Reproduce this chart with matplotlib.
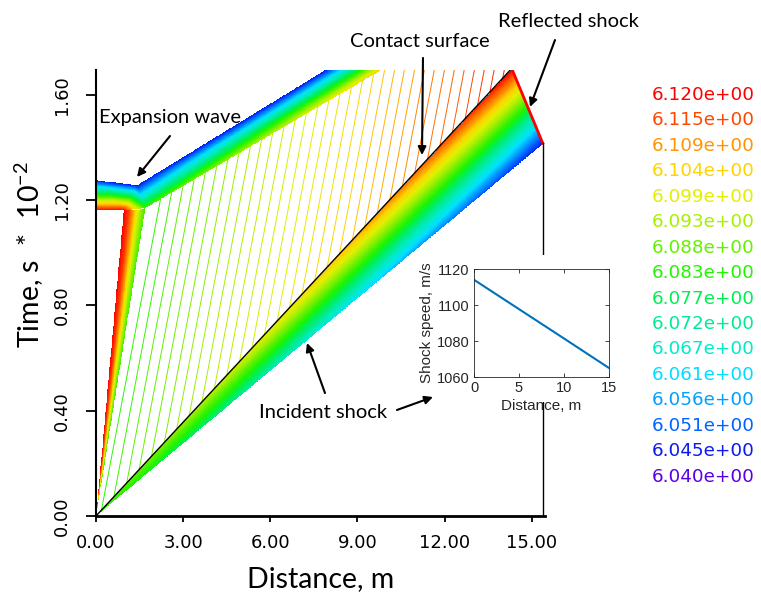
import numpy as np
import matplotlib
matplotlib.use('Agg')
import matplotlib.pyplot as plt
from matplotlib.colors import LinearSegmentedColormap, Normalize
from matplotlib.collections import LineCollection
from matplotlib.patches import Rectangle

# ---------------- data (x in m, t in s*1e-2) ----------------
legend_levels = [6.120, 6.115, 6.109, 6.104, 6.099, 6.093, 6.088, 6.083,
                 6.077, 6.072, 6.067, 6.061, 6.056, 6.051, 6.045, 6.040]
# colour of each level, ascending order 6.040 -> 6.120
level_rgb = [(90, 0, 230), (0, 30, 245), (0, 95, 255), (0, 160, 255),
             (0, 225, 255), (0, 235, 205), (0, 235, 150), (0, 240, 80),
             (30, 245, 0), (100, 240, 0), (170, 240, 0), (225, 240, 0),
             (255, 210, 0), (255, 145, 0), (255, 80, 0), (255, 0, 0)]

x_ticks = [0, 3, 6, 9, 12, 15]
t_ticks = [0.0, 0.4, 0.8, 1.2, 1.6]

contact_end = (14.31, 1.70)     # contact surface reaches top
shock_end = (15.38, 1.416)      # incident shock at end wall
band_values = (6.085, 6.120, 6.045)   # at origin, contact_end, shock_end
wall_x = 15.38

# expansion fan (rays from origin), top points and values
fan_top_x = [0.95, 1.12, 1.28, 1.42, 1.56, 1.69]
fan_top_t = [1.162, 1.162, 1.162, 1.164, 1.166, 1.170]
fan_values = [6.120, 6.116, 6.108, 6.099, 6.091, 6.085]

# reflected expansion band (horizontal part + diagonal tail)
exp_x = [0.0, 0.95, 0.0, 1.41, 1.69, 7.95, 9.88]
exp_t = [1.162, 1.162, 1.276, 1.257, 1.170, 1.70, 1.70]
exp_v = [6.120, 6.120, 6.045, 6.045, 6.085, 6.045, 6.104]
exp_tris = [(0, 1, 2), (1, 3, 2), (1, 4, 3), (3, 4, 6), (3, 6, 5)]

# thin contour lines in the driver gas: x = x0 + speed * t
line_x0 = [0.15, 0.49, 0.84, 1.18, 1.52, 1.87, 2.21, 2.55, 2.90, 3.24, 3.58,
           3.93, 4.27, 4.61, 4.96, 5.30, 5.64, 5.99, 6.33, 6.67, 7.02, 7.36,
           7.70, 8.05, 8.39, 8.73, 9.08, 9.42, 9.76, 10.11, 10.45, 10.79, 11.14]
line_values = [6.084, 6.085, 6.087, 6.088, 6.089, 6.090, 6.091, 6.092, 6.093,
               6.094, 6.095, 6.096, 6.097, 6.098, 6.099, 6.100, 6.101, 6.102,
               6.103, 6.104, 6.105, 6.106, 6.107, 6.108, 6.110, 6.111, 6.112,
               6.113, 6.114, 6.115, 6.116, 6.117, 6.118]
line_speed = 1.72

inset_x = [0, 5, 10, 15]
inset_speed = [1114.0, 1097.7, 1081.4, 1065.0]

# ---------------- figure ----------------
W, H = 761, 596
fig = plt.figure(figsize=(W / 100, H / 100), dpi=100)
ax = fig.add_axes([96 / W, 80 / H, 449 / W, 446 / H])
xmax = 449 / 29.05
tmax = 446 / 263.25

cmap = LinearSegmentedColormap.from_list(
    'tec', [tuple(c / 255 for c in rgb) for rgb in level_rgb])
norm = Normalize(min(legend_levels), max(legend_levels))

# field on a fine grid
nx, ny = 1100, 1000
gx = np.linspace(0, xmax, nx)
gt = np.linspace(0, tmax, ny)
X, T = np.meshgrid(gx, gt)
V = np.full(X.shape, np.nan)


def fill_tri(p, vals):
    (x1, y1), (x2, y2), (x3, y3) = p
    det = (y2 - y3) * (x1 - x3) + (x3 - x2) * (y1 - y3)
    l1 = ((y2 - y3) * (X - x3) + (x3 - x2) * (T - y3)) / det
    l2 = ((y3 - y1) * (X - x3) + (x1 - x3) * (T - y3)) / det
    l3 = 1 - l1 - l2
    inside = (l1 >= -1e-9) & (l2 >= -1e-9) & (l3 >= -1e-9)
    V[inside] = (l1 * vals[0] + l2 * vals[1] + l3 * vals[2])[inside]


# shocked-gas band between contact surface and incident shock
fill_tri([(0, 0), contact_end, shock_end], band_values)

# expansion fan
fan_slopes = np.array(fan_top_x) / np.array(fan_top_t)
with np.errstate(divide='ignore', invalid='ignore'):
    S = np.where(T > 0, X / T, -1)
inside = (S >= fan_slopes[0]) & (S <= fan_slopes[-1]) & \
         (T <= np.interp(S, fan_slopes, fan_top_t))
V[inside] = np.interp(S, fan_slopes, fan_values)[inside]

# reflected expansion band
for tri in exp_tris:
    fill_tri([(exp_x[i], exp_t[i]) for i in tri], [exp_v[i] for i in tri])

ax.imshow(np.ma.masked_invalid(V), origin='lower', extent=(0, xmax, 0, tmax),
          cmap=cmap, norm=norm, aspect='auto', interpolation='nearest', zorder=2)

# thin contour lines
kA = contact_end[0] / contact_end[1]
p5 = (exp_x[4], exp_t[4])
pb = (exp_x[6], exp_t[6])
m = (pb[0] - p5[0]) / (pb[1] - p5[1])
segs = []
for x0 in line_x0:
    ts = x0 / (kA - line_speed)
    te = (x0 - p5[0] + m * p5[1]) / (m - line_speed)
    segs.append([(x0 + line_speed * ts, ts), (x0 + line_speed * te, te)])
ax.add_collection(LineCollection(segs, colors=cmap(norm(line_values)),
                                 linewidths=0.7, zorder=1))

# contact surface, reflected shock, end wall
ax.plot([0, contact_end[0]], [0, contact_end[1]], color='black', lw=1.0, zorder=4)
ax.plot([contact_end[0], shock_end[0]], [contact_end[1], shock_end[1]],
        color='red', lw=2.0, zorder=4)
ax.plot([wall_x, wall_x], [0, shock_end[1]], color='black', lw=1.0, zorder=4)

ax.set_xlim(0, xmax)
ax.set_ylim(0, tmax)
for s in ('top', 'right'):
    ax.spines[s].set_visible(False)
ax.spines['left'].set_linewidth(1.5)
ax.spines['bottom'].set_linewidth(2.0)

ax.set_xticks(x_ticks)
ax.set_xticklabels([f'{v:.2f}' for v in x_ticks])
ax.set_yticks(t_ticks)
ax.set_yticklabels([f'{v:.2f}' for v in t_ticks], rotation=90, va='center')
ax.tick_params(axis='x', length=4, width=1.3, pad=9, labelsize=13)
ax.tick_params(axis='y', length=7, width=1.3, pad=11, labelsize=13)

lab_font = 'Lato'
ax.set_xlabel('Distance, m', fontsize=20.5, family=lab_font)
ax.xaxis.set_label_coords(0.5, (516 - 566) / 446)
ax.set_ylabel(r'Time, s  *  10$^{\mathregular{-2}}$', fontsize=20.5, family=lab_font)
ax.yaxis.set_label_coords((46 - 96) / 449, (516 - 255) / 446)

# annotations
ann_kw = dict(fontsize=14.5, family=lab_font, ha='center', va='center')
arrow_kw = dict(arrowstyle='-|>', color='black', lw=1.5, mutation_scale=12,
                shrinkA=0, shrinkB=0)
texts = [('Expansion wave', 2.547, 1.512),
         ('Contact surface', 11.153, 1.804),
         ('Reflected shock', 16.25, 1.877),
         ('Incident shock', 7.814, 0.395)]
for s, x, y in texts:
    ax.text(x, y, s, **ann_kw)
arrows = [((2.547, 1.4435), (1.411, 1.2878)),
          ((11.256, 1.740), (11.222, 1.371)),
          ((15.80, 1.808), (14.94, 1.554)),
          ((7.883, 0.467), (7.263, 0.657)),
          ((10.36, 0.4027), (11.60, 0.452))]
for tail, head in arrows:
    ax.annotate('', xy=head, xytext=tail, arrowprops=arrow_kw,
                annotation_clip=False, zorder=6)

# legend (contour levels)
for i, lev in enumerate(legend_levels):
    fig.text(652 / W, 1 - (95 + i * 25.45) / H, f'{lev:.3e}',
             color=cmap(norm(lev)), fontsize=13.2, va='center', ha='left')

# inset
axin = fig.add_axes([474 / W, (H - 377) / H, 135 / W, 108 / H])
axin.add_patch(Rectangle((-0.25, -0.23), 1.27, 1.36, transform=axin.transAxes,
                         facecolor='white', edgecolor='none', clip_on=False,
                         zorder=-5))
axin.plot(inset_x, inset_speed, color='#0072BD', lw=1.5)
axin.set_xlim(0, 15)
axin.set_ylim(1060, 1120)
axin.set_xticks(inset_x)
axin.set_yticks([1060, 1080, 1100, 1120])
ifont = 'Liberation Sans'
axin.tick_params(direction='in', top=True, right=True, length=3, width=0.6,
                 labelsize=10.5, colors='#262626', pad=3)
for lab in axin.get_xticklabels() + axin.get_yticklabels():
    lab.set_family(ifont)
for sp in axin.spines.values():
    sp.set_linewidth(0.6)
    sp.set_color('#262626')
axin.set_xlabel('Distance, m', fontsize=11, family=ifont, color='#262626', labelpad=3)
axin.set_ylabel('Shock speed, m/s', fontsize=11, family=ifont, color='#262626', labelpad=2)

fig.savefig('out.png', dpi=100)
